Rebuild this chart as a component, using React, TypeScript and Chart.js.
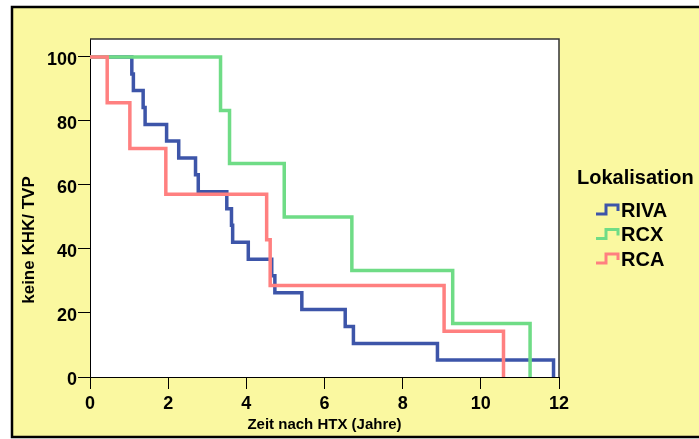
import { useEffect, useRef } from "react";
import { Chart, registerables } from "chart.js";

Chart.register(...registerables);

// Kaplan-Meier estimates: time after heart transplantation (years) vs. percent without CAV
const groupLabels = ["RIVA", "RCX", "RCA"];
const rivaTimes = [0, 1.07, 1.11, 1.36, 1.41, 1.96, 2.27, 2.7, 2.77, 3.5, 3.62, 3.65, 4.05, 4.65, 4.73, 5.42, 6.53, 6.74, 8.89, 11.86];
const rivaSurvival = [100, 94.7, 89.5, 84.2, 78.9, 73.7, 68.4, 63.2, 57.9, 52.6, 47.4, 42.1, 36.8, 31.6, 26.3, 21.1, 15.8, 10.5, 5.3, 0];
const rcxTimes = [0, 3.34, 3.57, 4.97, 6.7, 9.28, 11.26];
const rcxSurvival = [100, 83.3, 66.7, 50, 33.3, 16.7, 0];
const rcaTimes = [0, 0.44, 1.02, 1.94, 4.52, 4.61, 9.06, 10.58];
const rcaSurvival = [100, 85.7, 71.4, 57.1, 42.9, 28.6, 14.3, 0];

const xTicks = [0, 2, 4, 6, 8, 10, 12];
const yTicks = [0, 20, 40, 60, 80, 100];

const xTitle = "Zeit nach HTX (Jahre)";
const yTitle = "keine KHK/ TVP";
const legendTitle = "Lokalisation";

const colors = ["#3d55a9", "#6fdc86", "#ff8080"];
const FONT = '"Liberation Sans", Arial, sans-serif';
const PANEL = "#faf8a0";

const toPoints = (xs: number[], ys: number[]) => xs.map((x, i) => ({ x, y: ys[i] }));

const backgroundPlugin = {
  id: "panelBackground",
  beforeDraw(chart: any) {
    const { ctx, width, height, chartArea } = chart;
    ctx.save();
    ctx.fillStyle = "#ffffff";
    ctx.fillRect(0, 0, width, height);
    ctx.fillStyle = PANEL;
    ctx.fillRect(12, 7, width, 430);
    ctx.strokeStyle = "#000";
    ctx.lineWidth = 2.5;
    ctx.strokeRect(12, 7, width + 10, 430);
    ctx.fillStyle = "#ffffff";
    ctx.fillRect(chartArea.left, chartArea.top, chartArea.right - chartArea.left, chartArea.bottom - chartArea.top);
    ctx.restore();
  },
  beforeDatasetsDraw(chart: any) {
    const { ctx, chartArea } = chart;
    ctx.save();
    ctx.strokeStyle = "#333";
    ctx.lineWidth = 1.5;
    ctx.beginPath();
    ctx.moveTo(chartArea.left, chartArea.top);
    ctx.lineTo(chartArea.right, chartArea.top);
    ctx.lineTo(chartArea.right, chartArea.bottom);
    ctx.stroke();
    ctx.restore();
  },
};

// Vertical axis caption, drawn rotated beside the tick labels
const yTitlePlugin = {
  id: "yCaption",
  afterDraw(chart: any) {
    const { ctx } = chart;
    ctx.save();
    ctx.translate(29, 240);
    ctx.rotate(-Math.PI / 2);
    ctx.fillStyle = "#000";
    ctx.textAlign = "center";
    ctx.textBaseline = "middle";
    ctx.font = `bold 17px ${FONT}`;
    ctx.fillText(yTitle, 0, 0);
    ctx.restore();
  },
};

const stepLegendPlugin = {
  id: "stepLegend",
  afterDraw(chart: any) {
    const { ctx } = chart;
    ctx.save();
    ctx.fillStyle = "#000";
    ctx.textBaseline = "middle";
    ctx.textAlign = "left";
    ctx.font = `bold 20px ${FONT}`;
    ctx.fillText(legendTitle, 577, 178);
    chart.data.datasets.forEach((ds: any, i: number) => {
      const cy = 210 + i * 24.5;
      ctx.strokeStyle = ds.borderColor;
      ctx.lineWidth = 3;
      ctx.lineJoin = "miter";
      ctx.beginPath();
      ctx.moveTo(596, cy + 4);
      ctx.lineTo(606, cy + 4);
      ctx.lineTo(606, cy - 5);
      ctx.lineTo(618, cy - 5);
      ctx.lineTo(618, cy + 1);
      ctx.stroke();
      ctx.fillText(ds.label, 621, cy + 1);
    });
    ctx.restore();
  },
};

export default function App() {
  const canvasRef = useRef<HTMLCanvasElement | null>(null);

  useEffect(() => {
    if (!canvasRef.current) return;
    const series = [
      toPoints(rivaTimes, rivaSurvival),
      toPoints(rcxTimes, rcxSurvival),
      toPoints(rcaTimes, rcaSurvival),
    ];
    const drawOrder = [2, 1, 0];
    const chart = new Chart(canvasRef.current, {
      type: "line",
      data: {
        datasets: groupLabels.map((label, i) => ({
          label,
          data: series[i],
          borderColor: colors[i],
          backgroundColor: colors[i],
          borderWidth: 3.5,
          // horizontal run first, then the vertical drop at the event time
          stepped: "before" as const,
          pointRadius: 0,
          fill: false,
          order: drawOrder[i],
        })),
      },
      options: {
        animation: false,
        responsive: false,
        devicePixelRatio: 1,
        layout: { padding: { left: 0, right: 140, top: 39, bottom: 0 } },
        plugins: {
          legend: { display: false },
          tooltip: { enabled: false },
        },
        scales: {
          x: {
            type: "linear",
            min: 0,
            max: 12,
            afterFit: (scale: any) => {
              scale.height = 62;
            },
            afterBuildTicks: (scale: any) => {
              scale.ticks = xTicks.map((value) => ({ value }));
            },
            border: { display: true, color: "#000", width: 1 },
            grid: { display: true, drawOnChartArea: false, drawTicks: true, tickLength: 12, color: "#000", tickColor: "#000" },
            ticks: {
              color: "#000",
              font: { family: FONT, size: 18, weight: "bold" },
              padding: 4,
              maxRotation: 0,
            },
            title: {
              display: true,
              text: xTitle,
              color: "#000",
              font: { family: FONT, size: 15, weight: "bold" },
              padding: { top: 0, bottom: 5 },
            },
          },
          y: {
            type: "linear",
            min: 0,
            max: 105.6,
            afterFit: (scale: any) => {
              scale.width = 90;
            },
            afterBuildTicks: (scale: any) => {
              scale.ticks = yTicks.map((value) => ({ value }));
            },
            border: { display: true, color: "#000", width: 1 },
            grid: { display: true, drawOnChartArea: false, drawTicks: true, tickLength: 12, color: "#000", tickColor: "#000" },
            ticks: {
              color: "#000",
              font: { family: FONT, size: 18, weight: "bold" },
              padding: 1,
              labelOffset: 3,
            },
            title: { display: false },
          },
        },
      },
      plugins: [backgroundPlugin, yTitlePlugin, stepLegendPlugin],
    });
    return () => chart.destroy();
  }, []);

  return (
    <div style={{ position: "fixed", left: 0, top: 0, width: 699, height: 439 }}>
      <canvas ref={canvasRef} width={699} height={439} />
    </div>
  );
}
